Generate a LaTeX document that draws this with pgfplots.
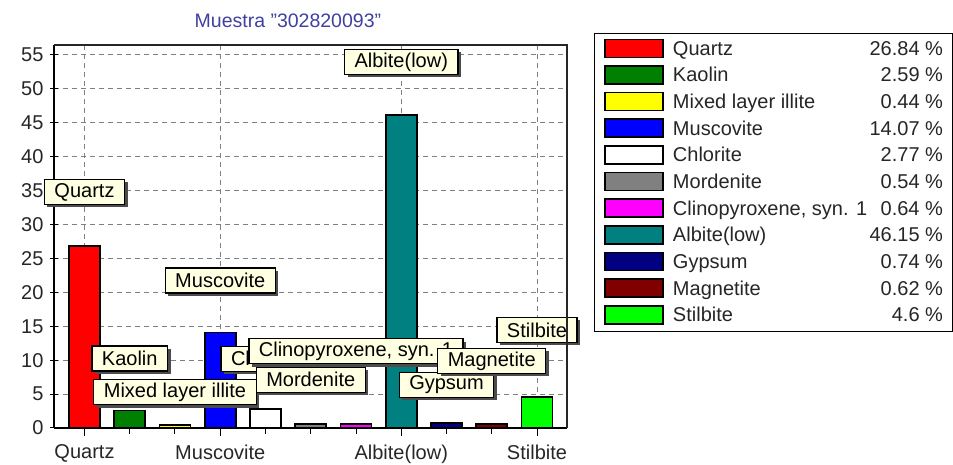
\documentclass[border=0pt]{standalone}
\usepackage{pgfplots}
\pgfplotsset{compat=1.18}
\usepackage{fontspec}
\setmainfont{Liberation Sans}
\usetikzlibrary{shadows}
\definecolor{cream}{RGB}{255,255,225}
\definecolor{titleblue}{RGB}{64,64,160}
\definecolor{kaolin}{RGB}{0,128,0}
\definecolor{albite}{RGB}{0,128,128}
\definecolor{gyps}{RGB}{0,0,128}
\definecolor{magn}{RGB}{128,0,0}
\definecolor{morden}{RGB}{128,128,128}
\definecolor{clino}{RGB}{255,0,255}
\definecolor{stil}{RGB}{0,255,0}
\definecolor{quartz}{RGB}{255,0,0}
\definecolor{musc}{RGB}{0,0,255}
\definecolor{mixed}{RGB}{255,255,0}
\definecolor{gridgray}{RGB}{128,128,128}
\pgfplotsset{
  swatch/.style={legend image code/.code={\draw[##1,line width=1.5pt,draw=black] (0pt,-7pt) rectangle (58pt,11pt);}},
  mybar/.style={ybar, bar width=31pt, bar shift=0pt, draw=black, line width=1.8pt, fill=#1, swatch},
}
\tikzset{lab/.style={draw=black, line width=1.2pt, fill=cream, inner xsep=10pt, inner ysep=0pt, minimum height=25pt, text=black, font=\fontsize{20}{24}\selectfont, drop shadow={shadow xshift=3pt, shadow yshift=-3pt, fill=black!70, opacity=1}}}
\begin{document}
\begin{tikzpicture}
\begin{axis}[
  at={(54pt,37pt)}, anchor=south west,
  scale only axis, width=513pt, height=383pt,
  xmin=-0.674, xmax=10.663, ymin=0, ymax=56.47,
  clip=false,
  axis x line*=bottom, axis y line*=left,
  axis line style={-, line width=2.5pt, black},
  x axis line style={-}, y axis line style={-},
  xtick={0,3,7,10}, xticklabels={Quartz,Muscovite,Albite(low),Stilbite},
  minor xtick={1,2,4,5,6,8,9},
  ytick={0,5,...,55},
  xmajorgrids, ymajorgrids,
  major grid style={gridgray, dash pattern=on 5pt off 4pt, line width=1pt},
  tick style={black, line width=1pt},
  xtick align=outside, ytick align=center,
  major tick length=8pt, minor tick length=6pt,
  /pgf/number format/assume math mode=true,
  tick label style={font=\fontsize{20}{24}\selectfont, text=black!85},
  xticklabel style={yshift=-5pt},
  yticklabel style={xshift=-3pt},
  legend style={at={(1.0526,1.0313)}, anchor=north west, draw=black, line width=1pt, fill=white,
    inner xsep=10pt, inner ysep=5pt, row sep=5.4pt, column sep=9pt,
    font=\fontsize{20}{24}\selectfont, text=black!85,
    nodes={inner sep=0pt, text height=14.5pt, text depth=4.5pt}},
  legend cell align=left,
  after end axis/.code={\draw[line width=1.2pt, black!85] (rel axis cs:0,1) -- (rel axis cs:1,1) -- (rel axis cs:1,0);},
]
\addplot[mybar=quartz] coordinates {(0,26.84)};
\addlegendentry{\makebox[270pt][l]{Quartz\hfill 26.84 \%}}
\addplot[mybar=kaolin] coordinates {(1,2.59)};
\addlegendentry{\makebox[270pt][l]{Kaolin\hfill 2.59 \%}}
\addplot[mybar=mixed] coordinates {(2,0.44)};
\addlegendentry{\makebox[270pt][l]{Mixed layer illite\hfill 0.44 \%}}
\addplot[mybar=musc] coordinates {(3,14.07)};
\addlegendentry{\makebox[270pt][l]{Muscovite\hfill 14.07 \%}}
\addplot[mybar=white] coordinates {(4,2.77)};
\addlegendentry{\makebox[270pt][l]{Chlorite\hfill 2.77 \%}}
\addplot[mybar=morden] coordinates {(5,0.54)};
\addlegendentry{\makebox[270pt][l]{Mordenite\hfill 0.54 \%}}
\addplot[mybar=clino] coordinates {(6,0.64)};
\addlegendentry{\makebox[270pt][l]{Clinopyroxene, syn. 1\hfill 0.64 \%}}
\addplot[mybar=albite] coordinates {(7,46.15)};
\addlegendentry{\makebox[270pt][l]{Albite(low)\hfill 46.15 \%}}
\addplot[mybar=gyps] coordinates {(8,0.74)};
\addlegendentry{\makebox[270pt][l]{Gypsum\hfill 0.74 \%}}
\addplot[mybar=magn] coordinates {(9,0.62)};
\addlegendentry{\makebox[270pt][l]{Magnetite\hfill 0.62 \%}}
\addplot[mybar=stil] coordinates {(10,4.6)};
\addlegendentry{\makebox[270pt][l]{Stilbite\hfill 4.6 \%}}

\node[lab] at (axis cs:0,34.8) {Quartz};
\node[lab] at (axis cs:1,10.25) {Kaolin};
\node[lab] at (axis cs:2,5.3) {Mixed layer illite};
\node[lab] at (axis cs:3,21.75) {Muscovite};
\node[lab] at (axis cs:4,10.2) {Chlorite};
\node[lab] at (axis cs:5,7.1) {Mordenite};
\node[lab] at (axis cs:6,11.35) {Clinopyroxene, syn. 1};
\node[lab] at (axis cs:7,53.97) {Albite(low)};
\node[lab] at (axis cs:8,6.35) {Gypsum};
\node[lab] at (axis cs:9,9.9) {Magnetite};
\node[lab] at (axis cs:10,14.45) {Stilbite};
\node[font=\fontsize{19.5}{23}\selectfont, text=titleblue] at (axis description cs:0.456,1.063) {Muestra "302820093"};
\end{axis}
\pgfresetboundingbox
\path[use as bounding box] (0,0) rectangle (953pt,465pt);
\end{tikzpicture}
\end{document}
